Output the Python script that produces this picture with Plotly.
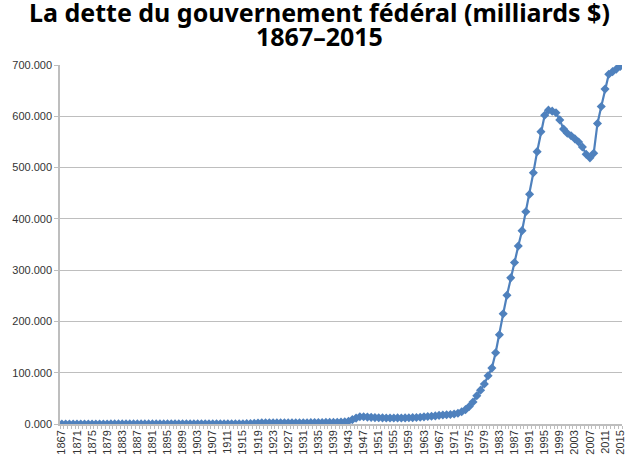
import plotly.graph_objects as go

years = list(range(1867, 2016))

debt = [
    # 1867-1876
    0.08, 0.08, 0.09, 0.09, 0.09, 0.10, 0.10, 0.11, 0.12, 0.13,
    # 1877-1886
    0.13, 0.14, 0.14, 0.15, 0.16, 0.16, 0.17, 0.18, 0.20, 0.22,
    # 1887-1896
    0.23, 0.23, 0.24, 0.24, 0.24, 0.24, 0.24, 0.24, 0.25, 0.25,
    # 1897-1906
    0.26, 0.26, 0.27, 0.27, 0.27, 0.27, 0.26, 0.26, 0.27, 0.27,
    # 1907-1916
    0.28, 0.28, 0.28, 0.30, 0.32, 0.34, 0.31, 0.34, 0.45, 0.65,
    # 1917-1926
    0.95, 1.3, 1.8, 2.3, 2.4, 2.45, 2.45, 2.42, 2.42, 2.39,
    # 1927-1936
    2.35, 2.30, 2.25, 2.20, 2.26, 2.38, 2.60, 2.73, 2.85, 3.0,
    # 1937-1946
    3.1, 3.1, 3.15, 3.3, 3.7, 4.1, 5.5, 8.5, 11.5, 14.0,
    # 1947-1956
    14.2, 13.5, 13.0, 12.5, 12.3, 12.0, 11.8, 11.8, 11.8, 11.9,
    # 1957-1966
    11.7, 11.9, 12.2, 12.4, 12.8, 13.2, 13.9, 14.7, 15.2, 15.8,
    # 1967-1976
    16.9, 17.5, 18.0, 18.5, 19.5, 21.0, 24.0, 28.0, 34.0, 43.0,
    # 1977-1986
    55.0, 66.0, 78.0, 94.0, 109.0, 139.0, 174.0, 215.0, 251.0, 285.0,
    # 1987-1996
    315.0, 347.0, 377.0, 414.0, 448.0, 490.0, 531.0, 570.0, 602.0, 612.0,
    # 1997-2006
    610.0, 607.0, 593.0, 575.0, 567.0, 562.0, 556.0, 550.0, 540.0, 526.0,
    # 2007-2015
    519.0, 528.0, 586.0, 619.0, 653.0, 682.0, 687.0, 692.0, 697.0,
]

label_years = list(range(1867, 2016, 4))
y_ticks = [0, 100, 200, 300, 400, 500, 600, 700]

title_line1 = "La dette du gouvernement fédéral (milliards $)"
title_line2 = "1867–2015"

blue = "#4F81BD"
grid = "#BEBEBE"

fig = go.Figure()
fig.add_trace(go.Scatter(
    x=years, y=debt,
    mode="lines+markers",
    line=dict(color=blue, width=2.2),
    marker=dict(symbol="diamond", size=7, color=blue),
    showlegend=False,
    hoverinfo="x+y",
))

title_font = dict(family="Noto Sans", size=25, color="#000000")
fig.add_annotation(text="<b>" + title_line1 + "</b>", xref="paper", yref="paper",
                   x=0.4609, y=1.147, xanchor="center", yanchor="middle",
                   showarrow=False, font=title_font)
fig.add_annotation(text="<b>" + title_line2 + "</b>", xref="paper", yref="paper",
                   x=0.4609, y=1.081, xanchor="center", yanchor="middle",
                   showarrow=False, font=title_font)

fig.update_layout(
    width=640, height=469,
    margin=dict(l=60, r=18, t=65, b=45),
    paper_bgcolor="white",
    plot_bgcolor="white",
    font=dict(family="Liberation Sans", size=11, color="#333333"),
)

fig.update_xaxes(
    range=[1866.5, 2015.5],
    tickmode="array",
    tickvals=label_years,
    ticktext=[str(y) for y in label_years],
    tickangle=-90,
    ticks="",
    showgrid=False,
    showline=True,
    linecolor=grid,
    linewidth=1.5,
    zeroline=False,
    tickfont=dict(family="Liberation Sans", size=11, color="#333333"),
    minor=dict(ticks="outside", tickmode="linear", tick0=1866.5, dtick=1,
               ticklen=3, tickcolor=grid, tickwidth=1, showgrid=False),
)

fig.update_yaxes(
    range=[0, 700],
    tickmode="array",
    tickvals=y_ticks,
    tickformat=".3f",
    ticks="outside",
    ticklen=4,
    tickcolor=grid,
    showgrid=True,
    gridcolor=grid,
    gridwidth=1.2,
    showline=True,
    linecolor=grid,
    linewidth=1.5,
    zeroline=False,
    tickfont=dict(family="Liberation Sans", size=11, color="#333333"),
)

fig.write_html("out.html",
               config={"displayModeBar": False},
               post_script="document.body.style.margin='0px';document.body.style.overflow='hidden';")
